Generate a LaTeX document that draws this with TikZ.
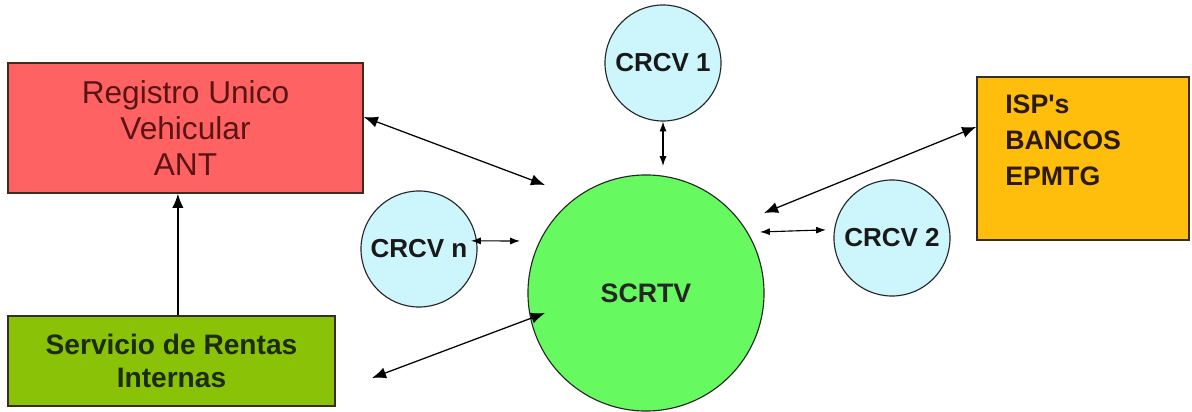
\documentclass[tikz,border=0pt]{standalone}
\usepackage{fontspec}
\setmainfont{Liberation Sans}
\usetikzlibrary{arrows.meta}

\definecolor{regfill}{RGB}{255,98,98}
\definecolor{regtext}{RGB}{90,20,20}
\definecolor{srifill}{RGB}{138,194,8}
\definecolor{sritext}{RGB}{28,44,6}
\definecolor{ispfill}{RGB}{255,190,12}
\definecolor{isptext}{RGB}{42,26,6}
\definecolor{scrtvfill}{RGB}{102,250,96}
\definecolor{crcvfill}{RGB}{204,246,251}
\definecolor{edge}{RGB}{58,44,30}

\begin{document}
\begin{tikzpicture}[x=0.025cm, y=-0.025cm,
	box/.style={rectangle, draw=edge, line width=1.1pt},
	center/.style={circle, draw=black!85, line width=0.8pt, fill=scrtvfill, minimum size=5.9cm, inner sep=0pt, font=\fontsize{19}{22}\selectfont\bfseries, text=black!85},
	station/.style={circle, draw=black!85, line width=0.8pt, fill=crcvfill, minimum size=2.9cm, inner sep=0pt, font=\fontsize{18.5}{22}\selectfont\bfseries, text=black!90},
	link/.style={line width=0.9pt, {Latex[length=10pt,width=8pt]}-{Latex[length=10pt,width=8pt]}},
	shortlink/.style={line width=0.8pt, {Latex[length=7pt,width=5pt]}-{Latex[length=7pt,width=5pt]}}]

	\useasboundingbox (0,0) rectangle (1192,412);

	% boxes
	\node[box, fill=regfill, minimum width=8.875cm, minimum height=3.25cm, align=center,
		font=\fontsize{22.5}{25.6}\selectfont, text=regtext] (rum) at (185.5,128) {Registro Unico\\Vehicular\\ANT};
	\node[box, fill=srifill, minimum width=8.175cm, minimum height=2.25cm, align=center,
		font=\fontsize{20}{23.4}\selectfont\bfseries, text=sritext] (sri) at (171.5,361) {Servicio de Rentas\\Internas};
	\node[box, fill=ispfill, minimum width=5.3cm, minimum height=4.075cm] (isp) at (1083,158.5) {};
	\node[anchor=north west, align=left, inner sep=0pt, font=\fontsize{19}{25.6}\selectfont\bfseries,
		text=isptext] (isplist) at (1005,95) {ISP\textquotesingle s\\BANCOS\\EPMTG};

	% circles
	\node[center] (scrtv) at (646,293) {SCRTV};
	\node[station] (crcv1) at (663,63) {CRCV 1};
	\node[station] (crcvn) at (419,249) {CRCV n};
	\node[station] (crcv2) at (892,238) {CRCV 2};

	% free ends
	\coordinate (scrtvnw) at (545,185);
	\coordinate (scrtvn) at (663,166);
	\coordinate (scrtvne) at (764,213);
	\coordinate (scrtve) at (760,232);
	\coordinate (scrtvw) at (520,241);
	\coordinate (scrtvsw) at (545,313);
	\coordinate (sritip) at (372,378);

	% links
	\draw[link] ([yshift=0.275cm]rum.east) -- (scrtvnw);
	\draw[shortlink] (crcv1.south) -- (scrtvn);
	\draw[link] ([yshift=0.79cm]isp.west) -- (scrtvne);
	\draw[shortlink] (scrtve) -- ([xshift=-0.2cm]crcv2.172);
	\draw[shortlink] ([xshift=-0.15cm]crcvn.8) -- (scrtvw);
	\draw[link] (sritip) -- (scrtvsw);
	\draw[line width=0.9pt, -{Latex[length=10pt,width=8pt]}] ([xshift=0.16cm]sri.north) -- ([xshift=0.16cm]sri.north |- rum.south);
\end{tikzpicture}
\end{document}
